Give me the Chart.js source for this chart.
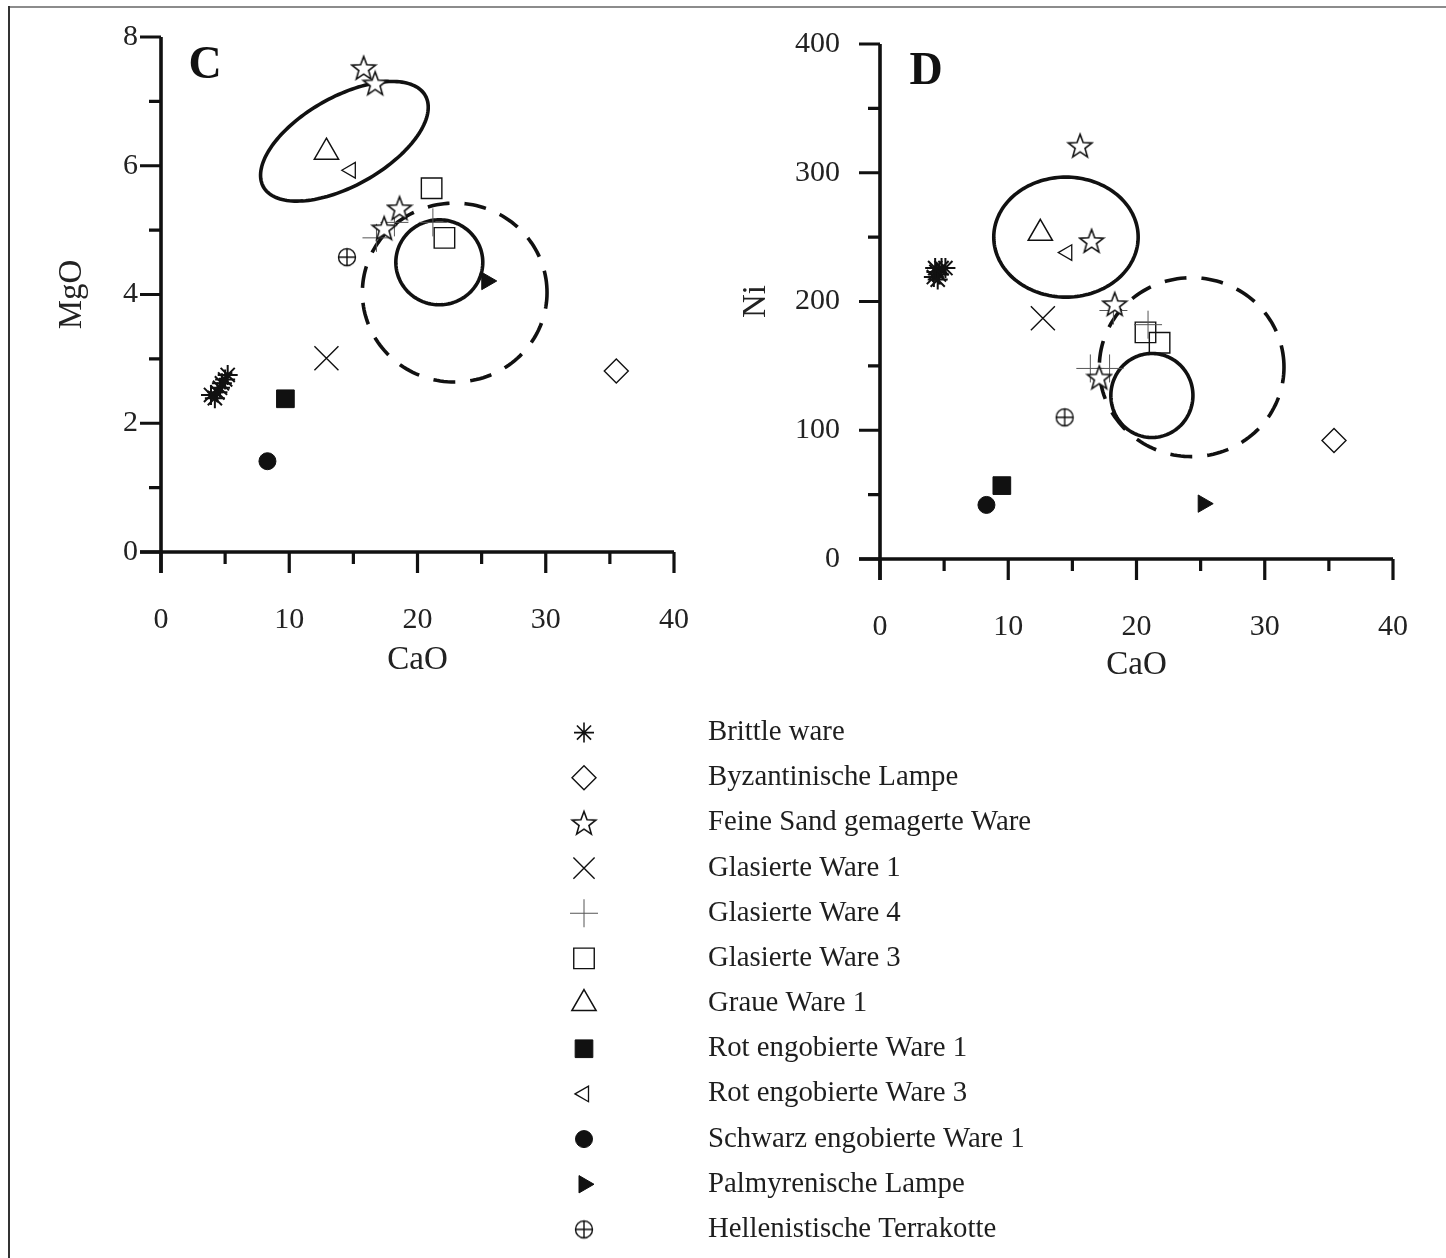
<!DOCTYPE html>
<html lang="de">
<head>
<meta charset="UTF-8">
<title>CaO – MgO / Ni</title>
<script src="https://cdn.jsdelivr.net/npm/chart.js"></script>
<style>
  body { margin: 0; background: #fff; }
  #page { position: relative; width: 1446px; height: 1258px; overflow: hidden; background: #fff; }
  #frame-top { position: absolute; left: 9px; top: 6px; width: 1437px; height: 2px; background: #8c8c8c; }
  #frame-left { position: absolute; left: 8px; top: 6px; width: 2px; height: 1252px; background: #333; }
  canvas { position: absolute; }
  #chart-c { left: 0; top: 0; }
  #chart-d { left: 720px; top: 0; }
  #legend { left: 540px; top: 700px; }
</style>
</head>
<body>
<div id="page">
  <div id="frame-top"></div>
  <div id="frame-left"></div>
  <canvas id="chart-c" width="720" height="700"></canvas>
  <canvas id="chart-d" width="726" height="700"></canvas>
  <canvas id="legend" width="560" height="558"></canvas>
</div>

<script>
// Warengruppen
const seriesNames = [
  'Brittle ware', 'Byzantinische Lampe', 'Feine Sand gemagerte Ware', 'Glasierte Ware 1',
  'Glasierte Ware 4', 'Glasierte Ware 3', 'Graue Ware 1', 'Rot engobierte Ware 1',
  'Rot engobierte Ware 3', 'Schwarz engobierte Ware 1', 'Palmyrenische Lampe', 'Hellenistische Terrakotte'
];

// Diagramm C: CaO (x) gegen MgO (y)
const brittleC = [[3.9, 2.44], [4.2, 2.39], [4.4, 2.48], [4.6, 2.55], [4.75, 2.62], [5.0, 2.68], [5.2, 2.75]];
const byzC = [[35.5, 2.81]];
const feineC = [[15.8, 7.52], [16.7, 7.28], [18.6, 5.34], [17.4, 5.03]];
const glas1C = [[12.9, 3.01]];
const glas4C = [[16.8, 4.88], [18.2, 5.12], [21.2, 5.12]];
const glas3C = [[21.1, 5.65], [22.1, 4.88]];
const graueC = [[12.9, 6.21]];
const rot1C = [[9.7, 2.38]];
const rot3C = [[14.8, 5.93]];
const schwarzC = [[8.3, 1.41]];
const palmC = [[25.4, 4.21]];
const hellC = [[14.5, 4.58]];

// Diagramm D: CaO (x) gegen Ni (y)
const brittleD = [[4.2, 219], [4.4, 223], [4.6, 221], [4.8, 226], [5.1, 226], [4.5, 217], [4.3, 226]];
const byzD = [[35.4, 92]];
const feineD = [[15.6, 321], [16.5, 247], [18.3, 198], [17.1, 141]];
const glas1D = [[12.7, 187]];
const glas4D = [[18.2, 193], [20.9, 182], [16.4, 148], [17.9, 148]];
const glas3D = [[20.7, 176], [21.8, 168]];
const graueD = [[12.5, 253]];
const rot1D = [[9.5, 57]];
const rot3D = [[14.6, 238]];
const schwarzD = [[8.3, 42]];
const palmD = [[25.2, 43]];
const hellD = [[14.4, 110]];

// Gruppengrenzen: Mittelpunkt und zwei konjugierte Halbachsen in Dateneinheiten
// [cx, cy, ux, uy, vx, vy]
const envelopesC = [[14.3, 6.38, 6.31, 0.71, -1.71, 0.60], [22.9, 4.03, 7.2, 0, 0, 1.39], [21.7, 4.50, 3.39, 0, 0, 0.66]];
const envelopeDashC = [false, true, false];
const envelopesD = [[14.5, 250, 5.63, 0, 0, 46.6], [24.3, 149, 7.2, 0, 0, 69.5], [21.2, 127, 3.2, 0, 0, 32.6]];
const envelopeDashD = [false, true, false];

// Achsen
const xTicks = [0, 10, 20, 30, 40];
const mgoTicks = [0, 2, 4, 6, 8];
const niTicks = [0, 100, 200, 300, 400];

const serif = '"Liberation Serif", "DejaVu Serif", serif';
const ink = '#111';

// eigene Symbole: fünfzackiger Stern und Kreis mit Kreuz
function makeStar() {
  const c = document.createElement('canvas');
  c.width = 28; c.height = 28;
  const g = c.getContext('2d');
  g.beginPath();
  for (let i = 0; i < 10; i++) {
    const r = i % 2 === 0 ? 12.5 : 5.2;
    const a = -Math.PI / 2 + i * Math.PI / 5;
    g.lineTo(14 + r * Math.cos(a), 15 + r * Math.sin(a));
  }
  g.closePath();
  g.fillStyle = '#fff';
  g.fill();
  g.lineWidth = 1.6;
  g.strokeStyle = ink;
  g.stroke();
  return c;
}

function makeCirclePlus() {
  const c = document.createElement('canvas');
  c.width = 22; c.height = 22;
  const g = c.getContext('2d');
  g.strokeStyle = ink;
  g.lineWidth = 1.4;
  g.beginPath();
  g.arc(11, 11, 8.5, 0, Math.PI * 2);
  g.moveTo(2.5, 11); g.lineTo(19.5, 11);
  g.moveTo(11, 2.5); g.lineTo(11, 19.5);
  g.stroke();
  return c;
}

const starImg = makeStar();
const hellImg = makeCirclePlus();

const markers = [
  { pointStyle: 'star', radius: 10, rotation: 0, fill: ink, border: ink, width: 2 },
  { pointStyle: 'rectRot', radius: 12, rotation: 0, fill: '#fff', border: ink, width: 1.4 },
  { pointStyle: starImg, radius: 13, rotation: 0, fill: '#fff', border: ink, width: 1.5 },
  { pointStyle: 'crossRot', radius: 17, rotation: 0, fill: ink, border: ink, width: 1.4 },
  { pointStyle: 'cross', radius: 14, rotation: 0, fill: '#555', border: '#555', width: 1 },
  { pointStyle: 'rect', radius: 14.5, rotation: 0, fill: 'rgba(255,255,255,0)', border: ink, width: 1.4 },
  { pointStyle: 'triangle', radius: 14, rotation: 0, fill: 'rgba(255,255,255,0)', border: ink, width: 1.5 },
  { pointStyle: 'rect', radius: 12.5, rotation: 0, fill: ink, border: ink, width: 1 },
  { pointStyle: 'triangle', radius: 9, rotation: -90, fill: 'rgba(255,255,255,0)', border: ink, width: 1.3 },
  { pointStyle: 'circle', radius: 8.5, rotation: 0, fill: ink, border: ink, width: 1 },
  { pointStyle: 'triangle', radius: 10, rotation: 90, fill: ink, border: ink, width: 1 },
  { pointStyle: hellImg, radius: 11, rotation: 0, fill: '#fff', border: ink, width: 1.4 }
];

function buildDatasets(groups) {
  return groups.map((pts, i) => {
    const m = markers[i];
    return {
      label: seriesNames[i],
      data: pts.map(p => ({ x: p[0], y: p[1] })),
      pointStyle: m.pointStyle,
      pointRadius: m.radius,
      rotation: m.rotation,
      backgroundColor: m.fill,
      borderColor: m.border,
      borderWidth: m.width
    };
  });
}

// die Lage der Zeichenfläche kommt nur aus layout.padding
function noLabelPadding(s) {
  s.paddingTop = 0; s.paddingBottom = 0; s.paddingLeft = 0; s.paddingRight = 0;
}

// Achsenlinien mit langen und kurzen Teilstrichen, Gruppenellipsen und Feldbuchstabe
const panelDecor = {
  id: 'panelDecor',
  beforeDatasetsDraw(chart, args, opts) {
    const { ctx, scales: { x, y } } = chart;
    ctx.save();
    ctx.strokeStyle = ink;
    ctx.lineWidth = 3.6;
    opts.envelopes.forEach((e, k) => {
      ctx.setLineDash(opts.dashed[k] ? [22, 15] : []);
      ctx.beginPath();
      for (let s = 0; s <= 160; s++) {
        const t = s / 160 * Math.PI * 2;
        const dx = e[0] + e[2] * Math.cos(t) + e[4] * Math.sin(t);
        const dy = e[1] + e[3] * Math.cos(t) + e[5] * Math.sin(t);
        const px = x.getPixelForValue(dx), py = y.getPixelForValue(dy);
        if (s === 0) ctx.moveTo(px, py); else ctx.lineTo(px, py);
      }
      ctx.closePath();
      ctx.stroke();
    });
    ctx.restore();
  },
  afterDraw(chart, args, opts) {
    const { ctx, scales: { x, y } } = chart;
    const left = x.getPixelForValue(x.min), right = x.getPixelForValue(x.max);
    const bottom = y.getPixelForValue(y.min), top = y.getPixelForValue(y.max);
    const major = 21, minor = 12;
    ctx.save();
    ctx.strokeStyle = ink;
    ctx.lineCap = 'butt';
    ctx.lineWidth = 3.6;
    ctx.beginPath();
    ctx.moveTo(left, top); ctx.lineTo(left, bottom + major);
    ctx.moveTo(left - major, bottom); ctx.lineTo(right, bottom);
    ctx.stroke();
    ctx.lineWidth = 3.2;
    ctx.beginPath();
    const xs = opts.xStep / 2;
    for (let v = x.min; v <= x.max + 1e-9; v += xs) {
      const len = Math.round(v / xs) % 2 === 0 ? major : minor;
      const px = x.getPixelForValue(v);
      ctx.moveTo(px, bottom); ctx.lineTo(px, bottom + len);
    }
    const ys = opts.yStep / 2;
    for (let v = y.min; v <= y.max + 1e-9; v += ys) {
      const len = Math.round(v / ys) % 2 === 0 ? major : minor;
      const py = y.getPixelForValue(v);
      ctx.moveTo(left, py); ctx.lineTo(left - len, py);
    }
    ctx.stroke();
    ctx.fillStyle = ink;
    ctx.font = 'bold 46px ' + serif;
    ctx.textAlign = 'center';
    ctx.textBaseline = 'middle';
    ctx.fillText(opts.letter, opts.letterX, opts.letterY);
    ctx.restore();
  }
};

function scatterPanel(canvasId, cfg) {
  return new Chart(document.getElementById(canvasId), {
    type: 'scatter',
    data: { datasets: buildDatasets(cfg.groups) },
    options: {
      responsive: false,
      animation: false,
      events: [],
      layout: { padding: cfg.padding, autoPadding: false },
      plugins: {
        legend: { display: false },
        tooltip: { enabled: false },
        panelDecor: cfg.decor
      },
      scales: {
        x: {
          type: 'linear',
          min: 0, max: 40,
          afterBuildTicks: s => { s.ticks = xTicks.map(v => ({ value: v })); },
          afterFit: s => { s.height = cfg.xHeight; noLabelPadding(s); },
          grid: { display: false, drawTicks: false },
          border: { display: false },
          ticks: { padding: cfg.xPad, color: '#222', font: { family: serif, size: 30 } },
          title: { display: true, text: 'CaO', color: '#222', padding: { top: 0, bottom: cfg.xTitlePad }, font: { family: serif, size: 33 } }
        },
        y: {
          type: 'linear',
          min: 0, max: cfg.yTicks[cfg.yTicks.length - 1],
          afterBuildTicks: s => { s.ticks = cfg.yTicks.map(v => ({ value: v })); },
          afterFit: s => { s.width = cfg.yWidth; noLabelPadding(s); },
          grid: { display: false, drawTicks: false },
          border: { display: false },
          ticks: { padding: cfg.yPad, color: '#222', font: { family: serif, size: 30 } },
          title: { display: true, text: cfg.yTitle, color: '#222', padding: { top: cfg.yTitlePad, bottom: 0 }, font: { family: serif, size: 33 } }
        }
      }
    },
    plugins: [panelDecor]
  });
}

scatterPanel('chart-c', {
  groups: [brittleC, byzC, feineC, glas1C, glas4C, glas3C, graueC, rot1C, rot3C, schwarzC, palmC, hellC],
  yTicks: mgoTicks,
  yTitle: 'MgO',
  padding: { left: 0, right: 46, top: 37, bottom: 0 },
  xHeight: 148, yWidth: 161,
  xPad: 50, yPad: 23, xTitlePad: 20, yTitlePad: 53,
  decor: { envelopes: envelopesC, dashed: envelopeDashC, xStep: 10, yStep: 2, letter: 'C', letterX: 205, letterY: 66 }
});

scatterPanel('chart-d', {
  groups: [brittleD, byzD, feineD, glas1D, glas4D, glas3D, graueD, rot1D, rot3D, schwarzD, palmD, hellD],
  yTicks: niTicks,
  yTitle: 'Ni',
  padding: { left: 0, right: 53, top: 44, bottom: 0 },
  xHeight: 141, yWidth: 160,
  xPad: 50, yPad: 40, xTitlePad: 15, yTitlePad: 17,
  decor: { envelopes: envelopesD, dashed: envelopeDashD, xStep: 10, yStep: 100, letter: 'D', letterX: 206, letterY: 72 }
});

// Legende: ein Symbol je Zeile, Beschriftung über eine rechte Kategorienachse
new Chart(document.getElementById('legend'), {
  type: 'scatter',
  data: {
    datasets: seriesNames.map((name, i) => {
      const m = markers[i];
      return {
        label: name,
        data: [{ x: 0.5, y: name }],
        pointStyle: m.pointStyle,
        pointRadius: m.pointStyle === 'crossRot' ? 15 : m.radius,
        rotation: m.rotation,
        backgroundColor: m.fill,
        borderColor: m.border,
        borderWidth: m.pointStyle === 'star' ? 1.6 : m.width
      };
    })
  },
  options: {
    responsive: false,
    animation: false,
    events: [],
    layout: { padding: { left: 20, top: 10, right: 0, bottom: 6 }, autoPadding: false },
    plugins: { legend: { display: false }, tooltip: { enabled: false } },
    scales: {
      x: { type: 'linear', min: 0, max: 1, display: false },
      y: {
        type: 'category',
        labels: seriesNames,
        position: 'right',
        offset: true,
        afterFit: s => { s.width = 492; noLabelPadding(s); },
        grid: { display: false, drawTicks: false },
        border: { display: false },
        ticks: { padding: 100, color: '#1e1e1e', font: { family: serif, size: 28.8 } }
      }
    }
  }
});
</script>
</body>
</html>
